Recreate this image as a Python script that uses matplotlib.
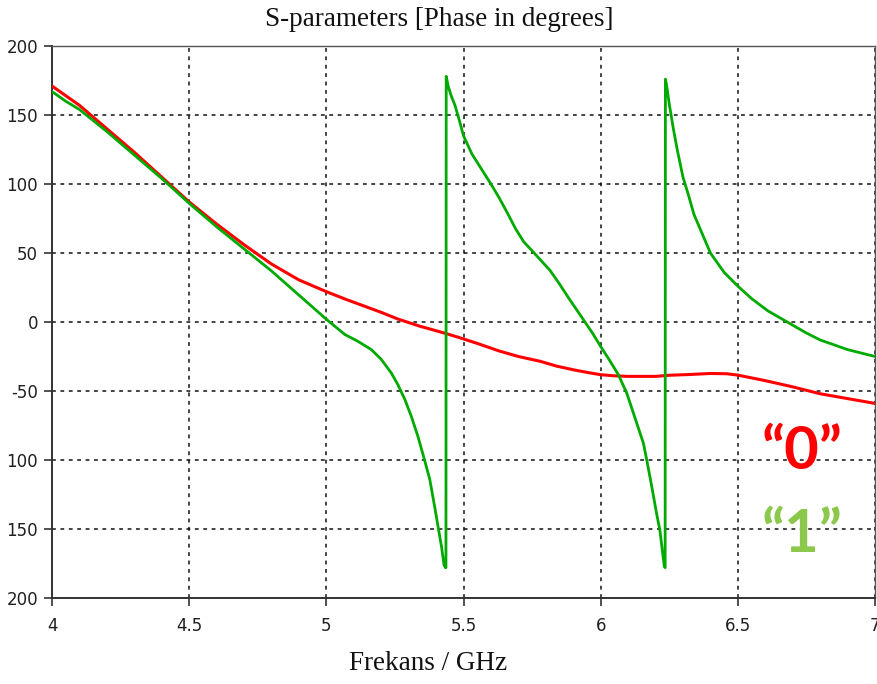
import matplotlib
matplotlib.use("Agg")
import matplotlib.pyplot as plt

# Frequency sweep (GHz) and phase (degrees) for state "0"
freq_0 = [4.00, 4.05, 4.10, 4.20, 4.30, 4.40, 4.50, 4.60, 4.70, 4.80, 4.90, 5.00,
          5.07, 5.14, 5.20, 5.26, 5.34, 5.43, 5.48, 5.55, 5.63, 5.70, 5.78, 5.84,
          5.90, 5.95, 6.00, 6.05, 6.10, 6.20, 6.25, 6.33, 6.40, 6.46, 6.50, 6.55,
          6.60, 6.70, 6.80, 6.90, 7.00]
phase_0 = [171, 164, 157, 140, 123, 105, 87, 71, 56, 42, 30.5, 22,
           16.5, 11.4, 7, 2.2, -3, -8, -11, -15.5, -21, -25, -28.5, -32,
           -34.6, -36.5, -38.2, -39, -39.4, -39.4, -38.6, -38, -37.3, -37.5, -38.5, -40.5,
           -42.5, -47, -52, -55.5, -59]

# Frequency sweep (GHz) and phase (degrees) for state "1" (wraps at +/-180)
freq_1 = [4.00, 4.05, 4.10, 4.20, 4.30, 4.40, 4.50, 4.60, 4.70, 4.80, 4.90, 5.00,
          5.067, 5.115, 5.164, 5.20, 5.237, 5.261, 5.286, 5.31, 5.334, 5.358, 5.377,
          5.395, 5.407, 5.42, 5.429, 5.434, 5.436, 5.437, 5.444, 5.455, 5.469, 5.485,
          5.50, 5.53, 5.568, 5.60, 5.63, 5.66, 5.69, 5.72, 5.753, 5.785, 5.815,
          5.845, 5.888, 5.937, 5.97, 6.00, 6.03, 6.064, 6.095, 6.131, 6.156, 6.168,
          6.186, 6.204, 6.216, 6.226, 6.232, 6.235, 6.236, 6.24, 6.25, 6.265, 6.28,
          6.30, 6.32, 6.34, 6.37, 6.40, 6.45, 6.50, 6.55, 6.61, 6.68, 6.75, 6.80,
          6.90, 7.00]
phase_1 = [167, 160, 154, 138, 121, 104, 86, 69, 53, 37, 19.5, 2,
           -9, -14, -20, -27, -37, -45.5, -56, -68.5, -83, -100, -114,
           -134, -148, -163, -176, -178, -178, 178, 171, 164, 157, 146,
           135, 122, 110, 100, 90, 79, 67.5, 58, 51, 44, 37.5,
           29, 16, 1.7, -8, -17.7, -27, -38, -51.5, -73, -88, -100,
           -119, -139, -151, -167.5, -177, -178, 176, 172, 158, 140, 124,
           105, 92, 78, 64, 50, 36, 26, 17, 8, 0, -8, -13,
           -20, -25]

x_ticks = [4, 4.5, 5, 5.5, 6, 6.5, 7]
x_tick_labels = ["4", "4.5", "5", "5.5", "6", "6.5", "7"]
y_ticks = [200, 150, 100, 50, 0, -50, -100, -150, -200]
y_tick_labels = ["200", "150", "100", "50", "0", "-50", "100", "150", "200"]

fig = plt.figure(figsize=(8.77, 6.84), dpi=100)
ax = fig.add_axes([52 / 877, 1 - 598 / 684, (875 - 52) / 877, (598 - 46) / 684])

ax.plot(freq_0, phase_0, color="#ff0000", lw=2.2, zorder=3)
ax.plot(freq_1, phase_1, color="#00aa00", lw=2.0, zorder=4)

ax.set_xlim(4, 7)
ax.set_ylim(-200, 200)
ax.set_xticks(x_ticks)
ax.set_xticklabels(x_tick_labels)
ax.set_yticks(y_ticks)
ax.set_yticklabels(y_tick_labels)
ax.tick_params(axis="both", labelsize=12, length=6, width=1.2, color="#333333",
               labelcolor="#1f1f1f", direction="out", pad=4)
ax.tick_params(axis="x", pad=8)

ax.grid(True, color="#111111", linestyle=(0, (2.5, 3)), linewidth=1.1)
for side in ("left", "bottom"):
    ax.spines[side].set_color("#333333")
    ax.spines[side].set_linewidth(1.4)
for side in ("top", "right"):
    ax.spines[side].set_color("#555555")
    ax.spines[side].set_linewidth(1.0)

fig.text(439 / 877, 1 - 19 / 684, "S-parameters [Phase in degrees]",
         family="Liberation Serif", fontsize=19.5, ha="center", va="center",
         color="#111111")
fig.text(428 / 877, 1 - 664 / 684, "Frekans / GHz",
         family="Liberation Serif", fontsize=19.5, ha="center", va="center",
         color="#111111")

ax.text(802 / 877, 1 - 452 / 684, "\u201c0\u201d", transform=fig.transFigure,
        family="Lato", fontweight="bold", fontsize=43, color="#ff0000",
        ha="center", va="center")
ax.text(802 / 877, 1 - 535 / 684, "\u201c1\u201d", transform=fig.transFigure,
        family="Lato", fontweight="bold", fontsize=43, color="#8cc84b",
        ha="center", va="center")

fig.savefig("out.png", dpi=100)
